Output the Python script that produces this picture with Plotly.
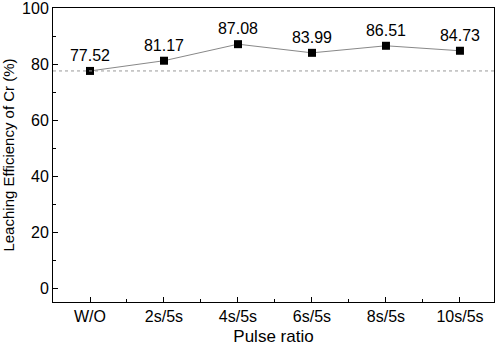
import plotly.graph_objects as go

categories = ["W/O", "2s/5s", "4s/5s", "6s/5s", "8s/5s", "10s/5s"]
values = [77.52, 81.17, 87.08, 83.99, 86.51, 84.73]
baseline = 77.52
x_idx = list(range(len(categories)))

FAM = "Liberation Sans, Arial"
fig = go.Figure()
fig.add_trace(go.Scatter(
    x=x_idx, y=values, mode="lines+markers+text",
    line=dict(color="#888888", width=1),
    marker=dict(symbol="square", size=8, color="black"),
    text=[f"{v:.2f}" for v in values], textposition="top center",
    textfont=dict(family=FAM, size=16, color="black"),
    cliponaxis=False, showlegend=False,
))
fig.add_trace(go.Scatter(
    x=[-0.5, 5.5], y=[baseline, baseline], mode="lines",
    line=dict(color="#999999", width=1, dash="dot"), showlegend=False,
    hoverinfo="skip",
))

tick_font = dict(family=FAM, size=16, color="black")
fig.update_layout(
    width=498, height=346,
    margin=dict(l=53, r=4, t=8, b=44),
    plot_bgcolor="white", paper_bgcolor="white",
    font=tick_font,
    xaxis=dict(
        range=[-0.5, 5.46], tickvals=x_idx, ticktext=categories,
        showgrid=False, zeroline=False, showline=True, linecolor="black", linewidth=1,
        mirror=True, ticks="inside", ticklen=5, tickcolor="black",
        minor=dict(tickvals=[0.5, 1.5, 2.5, 3.5, 4.5], ticks="inside", ticklen=3, tickcolor="black"),
        title=dict(text="Pulse ratio", font=dict(family=FAM, size=17, color="black"), standoff=6),
        tickfont=tick_font, automargin=False,
    ),
    yaxis=dict(
        range=[-5, 100], tickvals=[0, 20, 40, 60, 80, 100],
        showgrid=False, zeroline=False, showline=True, linecolor="black", linewidth=1,
        mirror=True, ticks="inside", ticklen=5, tickcolor="black",
        minor=dict(tickvals=[10, 30, 50, 70, 90], ticks="inside", ticklen=3, tickcolor="black"),
        title=dict(text="Leaching Efficiency of Cr (%)", font=dict(family=FAM, size=15, color="black"), standoff=9),
        tickfont=tick_font, automargin=False, ticklabeloverflow="allow",
    ),
)
fig.write_html("out.html", config={"displayModeBar": False},
               post_script="document.body.style.margin='0';document.body.style.padding='0';")
